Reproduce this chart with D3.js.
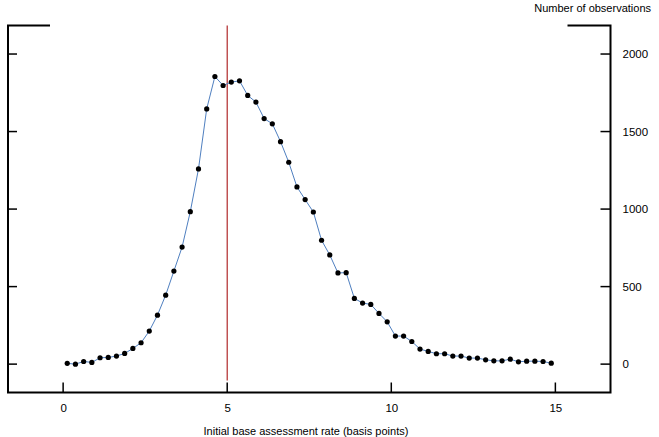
<!DOCTYPE html>
<html>
<head>
<meta charset="utf-8">
<script src="https://cdn.jsdelivr.net/npm/d3@7"></script>
<style>
  html, body { margin: 0; padding: 0; background: #fff; }
  svg { display: block; font-family: "Liberation Sans", Arial, Helvetica, sans-serif; }
</style>
</head>
<body>
<svg id="chart" width="659" height="437"></svg>
<script>
// Bin midpoints (basis points), bins of 0.25
const rates = d3.range(60).map(i => 0.125 + i * 0.25);
// Number of observations per bin
const counts = [
  5, 0, 17, 11, 41, 43, 52, 69, 101, 138,
  213, 316, 445, 600, 755, 983, 1259, 1646, 1855, 1797,
  1819, 1827, 1733, 1690, 1584, 1550, 1435, 1302, 1143, 1061,
  981, 799, 704, 588, 590, 424, 394, 385, 327, 273,
  181, 181, 146, 97, 82, 67, 67, 52, 52, 39,
  39, 28, 21, 21, 32, 15, 19, 19, 17, 6
];
const xTicks = [0, 5, 10, 15];
const yTicks = [0, 500, 1000, 1500, 2000];
const refRate = 5;

const svg = d3.select("#chart");
const pLeft = 8, pRight = 610.5, pTop = 25.5, pBottom = 392.5;

const x = d3.scaleLinear().domain([-1.68, 16.68]).range([pLeft, pRight]);
const y = d3.scaleLinear().domain([-183, 2184]).range([pBottom, pTop]);

// Frame
svg.append("path")
  .attr("d", `M${pLeft+41},${pTop} H${pLeft} V${pBottom} H${pRight} V${pTop} H${pRight-42}`)
  .attr("fill", "none").attr("stroke", "#000").attr("stroke-width", 2)
  .attr("stroke-linejoin", "miter").attr("stroke-linecap", "square");

// Right axis (ticks inward, labels outside)
const gR = svg.append("g").attr("transform", `translate(${pRight},0)`);
gR.selectAll("line.tk").data(yTicks).join("line").attr("class", "tk")
  .attr("x1", -10).attr("x2", 0).attr("y1", d => y(d)).attr("y2", d => y(d))
  .attr("stroke", "#000").attr("stroke-width", 1.5);
gR.call(d3.axisRight(y).tickValues(yTicks).tickFormat(d3.format("d")).tickSize(0).tickPadding(0));
gR.select(".domain").remove();
gR.selectAll(".tick text").attr("x", 12).attr("font-size", 11.5).attr("fill", "#000")
  .attr("font-family", "'Liberation Sans', Arial, sans-serif");

// Left axis ticks (no labels)
svg.append("g").selectAll("line").data(yTicks).join("line")
  .attr("x1", pLeft).attr("x2", pLeft + 9).attr("y1", d => y(d)).attr("y2", d => y(d))
  .attr("stroke", "#000").attr("stroke-width", 1.5);

// Bottom axis
const gB = svg.append("g").attr("transform", `translate(0,${pBottom})`);
gB.selectAll("line.tk").data(xTicks).join("line").attr("class", "tk")
  .attr("x1", d => x(d)).attr("x2", d => x(d)).attr("y1", -10).attr("y2", 0)
  .attr("stroke", "#000").attr("stroke-width", 1.5);
gB.call(d3.axisBottom(x).tickValues(xTicks).tickFormat(d3.format("d")).tickSize(0).tickPadding(0));
gB.select(".domain").remove();
gB.selectAll(".tick text").attr("y", 11).attr("font-size", 11.5).attr("fill", "#000")
  .attr("font-family", "'Liberation Sans', Arial, sans-serif");

// Titles
svg.append("text").attr("x", x(7.4)).attr("y", 435).attr("text-anchor", "middle")
  .attr("font-size", 11).text("Initial base assessment rate (basis points)");
svg.append("text").attr("x", 651).attr("y", 12).attr("text-anchor", "end")
  .attr("font-size", 11).text("Number of observations");

// Reference line
svg.append("line").attr("x1", x(refRate)).attr("x2", x(refRate))
  .attr("y1", pTop).attr("y2", y(-105))
  .attr("stroke", "#b0282a").attr("stroke-width", 1.2);

// Data line
const data = rates.map((r, i) => ({ r, c: counts[i] }));
svg.append("path").datum(data)
  .attr("fill", "none").attr("stroke", "#4f7fc0").attr("stroke-width", 1)
  .attr("d", d3.line().x(d => x(d.r)).y(d => y(d.c)));

svg.append("g").selectAll("circle").data(data).join("circle")
  .attr("cx", d => x(d.r)).attr("cy", d => y(d.c)).attr("r", 2.6).attr("fill", "#000");
</script>
</body>
</html>
